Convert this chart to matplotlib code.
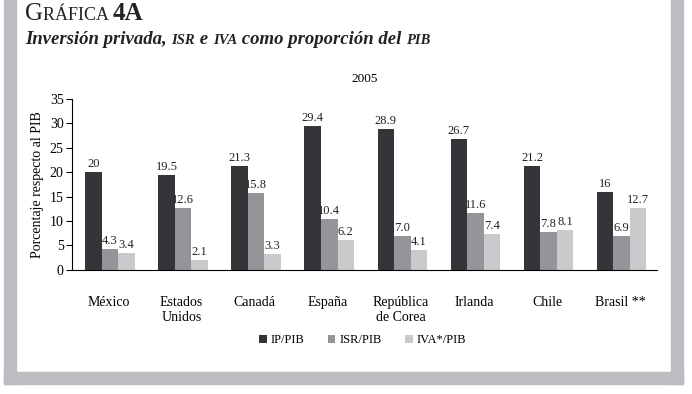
import numpy as np
import matplotlib.pyplot as plt
from matplotlib.patches import Rectangle

# Datos
paises = ['México', 'Estados\nUnidos', 'Canadá', 'España', 'República\nde Corea',
          'Irlanda', 'Chile', 'Brasil **']
ip_pib = [20, 19.5, 21.3, 29.4, 28.9, 26.7, 21.2, 16]
isr_pib = [4.3, 12.6, 15.8, 10.4, 7.0, 11.6, 7.8, 6.9]
iva_pib = [3.4, 2.1, 3.3, 6.2, 4.1, 7.4, 8.1, 12.7]
etiquetas_ip = ['20', '19.5', '21.3', '29.4', '28.9', '26.7', '21.2', '16']
etiquetas_isr = ['4.3', '12.6', '15.8', '10.4', '7.0', '11.6', '7.8', '6.9']
etiquetas_iva = ['3.4', '2.1', '3.3', '6.2', '4.1', '7.4', '8.1', '12.7']
series = ['IP/PIB', 'ISR/PIB', 'IVA*/PIB']
colores = ['#333538', '#939598', '#c9cacc']
gris_marco = '#bcbdc0'

plt.rcParams['font.family'] = ['Liberation Serif', 'DejaVu Serif']

fig = plt.figure(figsize=(6.92, 3.94), dpi=100, facecolor='white')
ax = fig.add_axes([0.104, 0.315, 0.845, 0.434])

# Marco gris (izquierda, abajo, derecha)
W, H = 692, 394
for (x0, y0, w, h) in [(4, 0, 12, 384), (4, 372, 679, 12), (671, 0, 12, 384)]:
    fig.patches.append(Rectangle((x0 / W, 1 - (y0 + h) / H), w / W, h / H,
                                 transform=fig.transFigure, color=gris_marco, zorder=0))

x = np.arange(len(paises))
ancho = 0.226
datos = [ip_pib, isr_pib, iva_pib]
etiquetas = [etiquetas_ip, etiquetas_isr, etiquetas_iva]
for i, (vals, etq) in enumerate(zip(datos, etiquetas)):
    pos = x + (i - 1) * ancho + 0.02
    ax.bar(pos, vals, width=ancho, color=colores[i], label=series[i])
    for xb, v, t in zip(pos, vals, etq):
        ax.text(xb, v + 0.4, t, ha='center', va='bottom', fontsize=9, color='#222222')

ax.set_xlim(-0.5, 7.5)
ax.set_ylim(0, 35)
ax.set_yticks(range(0, 36, 5))
ax.set_xticks(x)
ax.set_xticklabels(paises, fontsize=10, va='top', linespacing=1.15)
ax.tick_params(axis='x', length=0, pad=19)
ax.tick_params(axis='y', labelsize=10, length=4, width=0.8, pad=2)
for s in ['top', 'right']:
    ax.spines[s].set_visible(False)
ax.spines['left'].set_linewidth(0.8)
ax.spines['bottom'].set_linewidth(0.8)
ax.set_ylabel('Porcentaje respecto al PIB', fontsize=10, labelpad=4)
ax.set_title('2005', fontsize=9.5, pad=12)

# Leyenda
fig.legend(loc='center', bbox_to_anchor=(0.524, 0.137), ncol=3, frameon=False,
           fontsize=9, handlelength=0.6, handleheight=0.6, handletextpad=0.3,
           columnspacing=1.9)


# Texto en versalitas: piezas seguidas sobre la misma linea base
def texto_seguido(x0, y0, partes, **kw):
    r = fig.canvas.get_renderer()
    xp = x0
    for txt, fs, extra in partes:
        t = fig.text(xp, y0, txt, fontsize=fs, va='baseline', ha='left',
                     color='#222222', **kw, **extra)
        bb = t.get_window_extent(renderer=r)
        xp += bb.width / W


texto_seguido(25 / W, 1 - 20 / H,
              [('G', 18, {}), ('RÁFICA ', 13, {}), ('4A', 18, {'fontweight': 'bold'})])
texto_seguido(25 / W, 1 - 44 / H,
              [('Inversión privada, ', 13.5, {}), ('ISR', 10.5, {}), (' e ', 13.5, {}),
               ('IVA', 10.5, {}), (' como proporción del ', 13.5, {}), ('PIB', 10.5, {})],
              style='italic', fontweight='bold')

fig.savefig('out.png', dpi=100, facecolor='white')
